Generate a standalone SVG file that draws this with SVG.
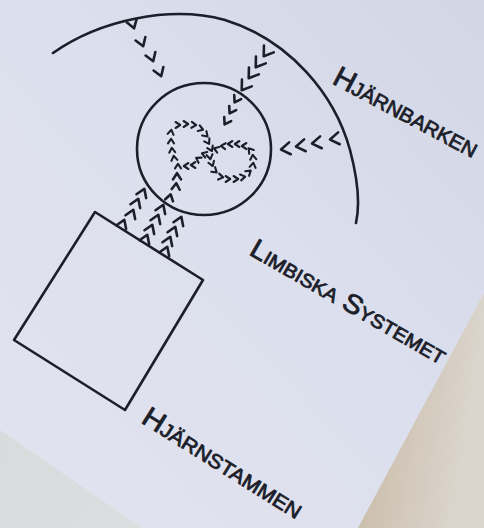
<svg xmlns="http://www.w3.org/2000/svg" width="484" height="528" viewBox="0 0 484 528">
  <defs>
    <linearGradient id="paper" x1="1" y1="0" x2="0" y2="1">
      <stop offset="0" stop-color="#d2d6e5"/>
      <stop offset="0.45" stop-color="#dcdfed"/>
      <stop offset="1" stop-color="#e2e3ef"/>
    </linearGradient>
    <linearGradient id="table" x1="0" y1="0" x2="1" y2="0.3">
      <stop offset="0" stop-color="#bba489"/>
      <stop offset="0.35" stop-color="#cbbdab"/>
      <stop offset="1" stop-color="#dbd5cd"/>
    </linearGradient>
    <linearGradient id="floor" x1="0" y1="0" x2="1" y2="1">
      <stop offset="0" stop-color="#d3d7d8"/>
      <stop offset="1" stop-color="#dfe2e2"/>
    </linearGradient>
    <path id="chl" d="M-5,-6 L4,0 L-5,6"/>
    <path id="chv" d="M-4.5,-5.2 L3.5,0 L-4.5,5.2"/>
    <path id="chm" d="M-3.4,-4 L2.8,0 L-3.4,4"/>
    <path id="chs" d="M-2.4,-3 L2.2,0 L-2.4,3"/>
  </defs>
  <style>
    .ink { fill: none; stroke: #1c1e2a; stroke-width: 2.6; stroke-linecap: round; stroke-linejoin: round; }
    .chev use { fill: none; stroke: #1c1e2a; stroke-width: 2.6; stroke-linecap: round; stroke-linejoin: round; }
    .loop use { stroke-width: 2.1; }
    .label { font-family: "Liberation Sans", "DejaVu Sans", sans-serif; font-variant: small-caps; fill: #1c1e2a; stroke: #1c1e2a; stroke-width: 0.8; stroke-linejoin: round; }
  </style>

  <rect x="0" y="0" width="484" height="528" fill="url(#floor)"/>
  <polygon points="484,250 484,528 340,528" fill="url(#table)"/>
  <polygon points="0,0 484,0 484,293 358,528 142,528 0,430" fill="url(#paper)"/>

  <g id="hjarnbarken">
    <path class="ink" d="M53,53 C100,20 170,5 225,20 C290,40 335,95 350,150 C358,180 360,205 356,223"/>
    <text class="label" font-size="29" transform="translate(331,83) rotate(28)" textLength="160" lengthAdjust="spacingAndGlyphs">Hjärnbarken</text>
  </g>

  <g id="limbiska-systemet">
    <ellipse class="ink" cx="204" cy="149" rx="67" ry="66"/>
    <text class="label" font-size="27" transform="translate(248,254) rotate(30)" textLength="222" lengthAdjust="spacingAndGlyphs">Limbiska Systemet</text>
  </g>

  <g id="hjarnstammen">
    <polygon class="ink" points="95,212 203,280 125,410 14,340"/>
    <text class="label" font-size="28" transform="translate(140,422) rotate(32)" textLength="184" lengthAdjust="spacingAndGlyphs">Hjärnstammen</text>
  </g>

  <g id="connectors" class="chev">
    <g id="trail-cortex-left">
      <use href="#chv" transform="translate(133,25) rotate(72)"/>
      <use href="#chv" transform="translate(142,43) rotate(70)"/>
      <use href="#chv" transform="translate(152,58) rotate(70)"/>
      <use href="#chv" transform="translate(160,73) rotate(70)"/>
    </g>
    <g id="trail-cortex-right">
      <use href="#chl" transform="translate(266,53) rotate(125)"/>
      <use href="#chl" transform="translate(258,64) rotate(125)"/>
      <use href="#chl" transform="translate(251,75) rotate(125)"/>
      <use href="#chl" transform="translate(244,87) rotate(125)"/>
      <use href="#chm" transform="translate(236,100) rotate(120)"/>
      <use href="#chm" transform="translate(231,111) rotate(120)"/>
      <use href="#chm" transform="translate(226,122) rotate(120)"/>
    </g>
    <g id="trail-cortex-side">
      <use href="#chl" transform="translate(285,149) rotate(172)"/>
      <use href="#chl" transform="translate(300,146) rotate(172)"/>
      <use href="#chl" transform="translate(316,143) rotate(172)"/>
      <use href="#chl" transform="translate(334,139) rotate(172)"/>
    </g>
    <g id="trail-stem">
      <use href="#chv" transform="translate(123,223) rotate(-68)"/>
      <use href="#chv" transform="translate(132,213) rotate(-68)"/>
      <use href="#chv" transform="translate(137,202) rotate(-68)"/>
      <use href="#chv" transform="translate(143,192) rotate(-68)"/>

      <use href="#chv" transform="translate(146,238) rotate(-68)"/>
      <use href="#chv" transform="translate(151,228) rotate(-68)"/>
      <use href="#chv" transform="translate(157,218) rotate(-68)"/>
      <use href="#chv" transform="translate(162,208) rotate(-68)"/>
      <use href="#chm" transform="translate(170,197) rotate(-75)"/>
      <use href="#chm" transform="translate(176,186) rotate(-85)"/>
      <use href="#chm" transform="translate(177,176) rotate(-90)"/>

      <use href="#chv" transform="translate(166,250) rotate(-68)"/>
      <use href="#chv" transform="translate(169,240) rotate(-68)"/>
      <use href="#chv" transform="translate(174,230) rotate(-68)"/>
      <use href="#chv" transform="translate(180,220) rotate(-68)"/>
    </g>
    <g id="loop" class="loop">
      <use href="#chs" transform="translate(178,166) rotate(-90)"/>
      <use href="#chs" transform="translate(186,166) rotate(180)"/>
      <use href="#chs" transform="translate(193,165) rotate(180)"/>
      <use href="#chs" transform="translate(174,158) rotate(-100)"/>
      <use href="#chs" transform="translate(172,150) rotate(-95)"/>
      <use href="#chs" transform="translate(171,141) rotate(-90)"/>
      <use href="#chs" transform="translate(171,132) rotate(-80)"/>
      <use href="#chs" transform="translate(178,125) rotate(0)"/>
      <use href="#chs" transform="translate(186,124) rotate(0)"/>
      <use href="#chs" transform="translate(194,125) rotate(5)"/>
      <use href="#chs" transform="translate(201,129) rotate(20)"/>
      <use href="#chs" transform="translate(206,135) rotate(45)"/>
      <use href="#chs" transform="translate(208,142) rotate(60)"/>
      <use href="#chs" transform="translate(211,149) rotate(65)"/>
      <use href="#chs" transform="translate(210,157) rotate(80)"/>
      <use href="#chs" transform="translate(212,164) rotate(70)"/>
      <use href="#chs" transform="translate(215,171) rotate(40)"/>
      <use href="#chs" transform="translate(221,177) rotate(10)"/>
      <use href="#chs" transform="translate(228,179) rotate(0)"/>
      <use href="#chs" transform="translate(236,179) rotate(0)"/>
      <use href="#chs" transform="translate(243,177) rotate(-10)"/>
      <use href="#chs" transform="translate(249,172) rotate(-40)"/>
      <use href="#chs" transform="translate(253,165) rotate(-80)"/>
      <use href="#chs" transform="translate(253,157) rotate(-95)"/>
      <use href="#chs" transform="translate(250,150) rotate(-130)"/>
      <use href="#chs" transform="translate(244,146) rotate(180)"/>
      <use href="#chs" transform="translate(237,144) rotate(180)"/>
      <use href="#chs" transform="translate(230,144) rotate(180)"/>
      <use href="#chs" transform="translate(223,146) rotate(185)"/>
      <use href="#chs" transform="translate(216,149) rotate(200)"/>
      <use href="#chs" transform="translate(204,154) rotate(200)"/>
      <use href="#chs" transform="translate(198,159) rotate(210)"/>
    </g>
  </g>
</svg>
